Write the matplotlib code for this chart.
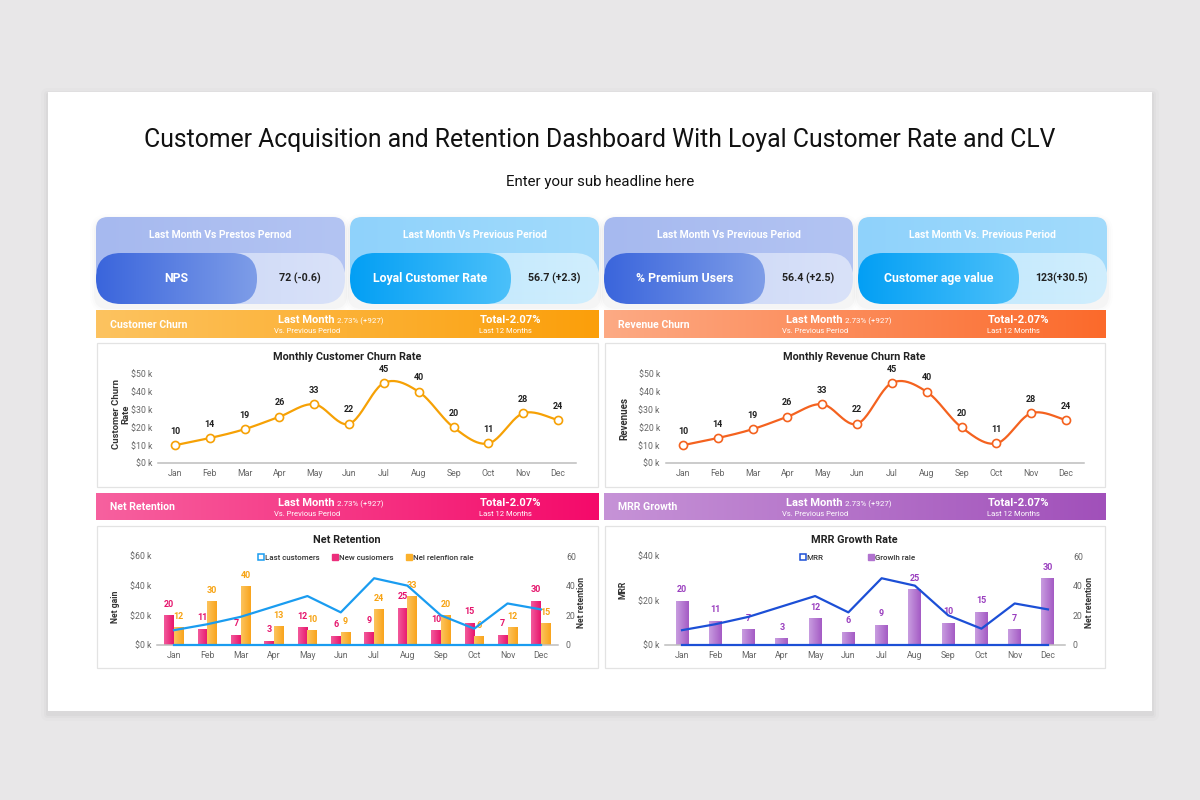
import numpy as np
import matplotlib
matplotlib.use("Agg")
import matplotlib.pyplot as plt
from matplotlib.patches import FancyBboxPatch, Rectangle
from matplotlib.colors import LinearSegmentedColormap
from matplotlib.lines import Line2D

plt.rcParams['font.family'] = ['Roboto', 'DejaVu Sans']

# ---------------- DATA ----------------
months = ['Jan', 'Feb', 'Mar', 'Apr', 'May', 'Jun', 'Jul', 'Aug', 'Sep', 'Oct', 'Nov', 'Dec']
customer_churn = [10, 14, 19, 26, 33, 22, 45, 40, 20, 11, 28, 24]
revenue_churn = [10, 14, 19, 26, 33, 22, 45, 40, 20, 11, 28, 24]
lost_customers = [10, 14, 19, 26, 33, 22, 45, 40, 20, 11, 28, 24]
new_customers = [20, 11, 7, 3, 12, 6, 9, 25, 10, 15, 7, 30]
net_retention_rate = [12, 30, 40, 13, 10, 9, 24, 33, 20, 6, 12, 15]
mrr_values = [10, 14, 19, 26, 33, 22, 45, 40, 20, 11, 28, 24]
growth_rate = [20, 11, 7, 3, 12, 6, 9, 25, 10, 15, 7, 30]
zero_baseline = [0, 0, 0, 0, 0, 0, 0, 0, 0, 0, 0, 0]

churn_ticks = [0, 10, 20, 30, 40, 50]
churn_tick_labels = ['$0 k', '$10 k', '$20 k', '$30 k', '$40 k', '$50 k']
net_ticks = [0, 20, 40, 60]
net_tick_labels = ['$0 k', '$20 k', '$40 k', '$60 k']
mrr_ticks = [0, 20, 40]
mrr_tick_labels = ['$0 k', '$20 k', '$40 k']
right_ticks = [0, 20, 40, 60]
right_tick_labels = ['0', '20', '40', '60']

net_legend = ['Last customers', 'New cusiomers', 'Nel relenfion rale']
mrr_legend = ['MRR', 'Growlh rale']

title = 'Customer Acquisition and Retention Dashboard With Loyal Customer Rate and CLV'
subtitle = 'Enter your sub headline here'

kpi_headers = ['Last Month Vs Prestos Pernod', 'Last Month Vs Previous Period',
               'Last Month Vs Previous Period', 'Last Month Vs. Previous Period']
kpi_names = ['NPS', 'Loyal Customer Rate', '% Premium Users', 'Customer age value']
kpi_values = ['72 (-0.6)', '56.7 (+2.3)', '56.4 (+2.5)', '123(+30.5)']

banner_titles = ['Customer Churn', 'Revenue Churn', 'Net Retention', 'MRR Growth']
banner_last_month = 'Last Month'
banner_change = '2.73% (+927)'
banner_vs = 'Vs. Previous Period'
banner_total = 'Total-2.07%'
banner_period = 'Last 12 Months'

# ---------------- FIGURE ----------------
W, H = 1200, 800
fig = plt.figure(figsize=(12, 8), dpi=100)
fig.patch.set_facecolor('#e8e7e8')
bg = fig.add_axes([0, 0, 1, 1])
bg.set_xlim(0, W)
bg.set_ylim(H, 0)
bg.axis('off')


def px_axes(l, t, r, b):
    return fig.add_axes([l / W, 1 - b / H, (r - l) / W, (b - t) / H])


def grad_patch(x, y, w, h, c1, c2, r, z):
    style = f"round,pad=0,rounding_size={r}" if r > 0 else "square,pad=0"
    p = FancyBboxPatch((x, y), w, h, boxstyle=style, fc='none', ec='none', zorder=z)
    bg.add_patch(p)
    cmap = LinearSegmentedColormap.from_list('g', [c1, c2])
    g = np.linspace(0, 1, 256).reshape(1, -1)
    im = bg.imshow(g, extent=[x, x + w, y + h, y], cmap=cmap, aspect='auto',
                   zorder=z, interpolation='bilinear')
    im.set_clip_path(p)
    return p


def soft_shadow(x, y, w, h, r, z, steps=((6, 0.008), (4, 0.012), (2, 0.018))):
    for s, a in steps:
        bg.add_patch(FancyBboxPatch((x - s, y - s + 3), w + 2 * s, h + 2 * s,
                                    boxstyle=f"round,pad=0,rounding_size={r + s}",
                                    fc='black', ec='none', alpha=a, zorder=z))


# white sheet
soft_shadow(48, 92, 1104, 619, 0, 0.5, steps=((7, 0.012), (4, 0.018), (2, 0.025)))
bg.add_patch(Rectangle((48, 92), 1104, 619, fc='white', ec='none', zorder=1))

bg.text(600, 140, title, ha='center', va='center', fontsize=17.8, color='#111111', zorder=5)
bg.text(600, 182, subtitle, ha='center', va='center', fontsize=10.8, color='#111111', zorder=5)

# ---------------- KPI CARDS ----------------
kpi_x = [96, 350, 604, 858]
card_w = 249
pill_w = 161
blue_style = dict(top=('#a6b9ef', '#b3c4f3'), light=('#cfdaf7', '#d9e2f9'), pill=('#3a65dc', '#7e9de8'))
cyan_style = dict(top=('#8fd2fb', '#a2dbfc'), light=('#c4e9fd', '#d0eefd'), pill=('#039ff4', '#4bc0fa'))
styles = [blue_style, cyan_style, blue_style, cyan_style]
for i, x0 in enumerate(kpi_x):
    st = styles[i]
    soft_shadow(x0, 217, card_w, 87, 12, 2)
    grad_patch(x0, 217, card_w, 63, st['top'][0], st['top'][1], 12, 3)
    grad_patch(x0 + pill_w - 40, 253, card_w - pill_w + 40, 51, st['light'][0], st['light'][1], 25, 4)
    grad_patch(x0, 253, pill_w, 51, st['pill'][0], st['pill'][1], 25, 5)
    bg.text(x0 + card_w / 2, 235.5, kpi_headers[i], ha='center', va='center', fontsize=7.5,
            fontweight='bold', color='white', zorder=6)
    bg.text(x0 + pill_w / 2, 278.5, kpi_names[i], ha='center', va='center', fontsize=8.8,
            fontweight='bold', color='white', zorder=6)
    bg.text((x0 + pill_w + x0 + card_w) / 2 - 1, 278.5, kpi_values[i], ha='center', va='center',
            fontsize=7.7, fontweight='bold', color='#222222', zorder=6)

# ---------------- BANNERS ----------------
banner_pos = [(96, 310, 503, 28), (604, 310, 502, 28), (96, 493, 503, 27), (604, 493, 502, 27)]
banner_cols = [('#fdc360', '#fb9f0a'), ('#fdaa84', '#fb6a2b'), ('#f7619f', '#f40a6a'), ('#c693d7', '#a150ba')]
for i, (bx, by, bw, bh) in enumerate(banner_pos):
    grad_patch(bx, by, bw, bh, banner_cols[i][0], banner_cols[i][1], 0, 3)
    bg.text(bx + 14, by + bh / 2 + 0.5, banner_titles[i], ha='left', va='center', fontsize=7.6,
            fontweight='bold', color='white', zorder=6)
    t = bg.text(bx + 182, by + 10, banner_last_month, ha='left', va='center', fontsize=8.0,
                fontweight='bold', color='white', zorder=6)
    bg.annotate(banner_change, xy=(1, 0.5), xycoords=t, xytext=(2, -0.5), textcoords='offset points',
                ha='left', va='center', fontsize=5.7, color='white', zorder=6)
    bg.text(bx + 178, by + 21, banner_vs, ha='left', va='center', fontsize=5.5,
            color='white', zorder=6)
    bg.text(bx + 384, by + 10, banner_total, ha='left', va='center', fontsize=8.1,
            fontweight='bold', color='white', zorder=6)
    bg.text(bx + 383, by + 21, banner_period, ha='left', va='center', fontsize=5.5,
            color='white', zorder=6)

# ---------------- PANELS ----------------
for (px, py, pw, ph) in [(97, 343, 501, 144), (605, 343, 500, 144), (97, 526, 501, 142), (605, 526, 500, 142)]:
    bg.add_patch(Rectangle((px, py), pw, ph, fc='white', ec='#e3e3e3', lw=0.9, zorder=2))

# chart titles
for (cx, cy, s) in [(347, 357, 'Monthly Customer Churn Rate'), (854, 357, 'Monthly Revenue Churn Rate'),
                    (347, 540, 'Net Retention'), (854, 540, 'MRR Growth Rate')]:
    bg.text(cx, cy, s, ha='center', va='center', fontsize=7.8, fontweight='bold', color='#222222', zorder=6)

# axis titles
ylab_kw = dict(ha='center', va='center', rotation=90, color='#333333', zorder=6, fontweight='bold')
bg.text(121, 414, 'Customer Churn\nRate', fontsize=6.8, linespacing=1.0, multialignment='center', **ylab_kw)
bg.text(624, 418, 'Revenues', fontsize=7, **ylab_kw)
bg.text(116, 607, 'Net gain', fontsize=6.2, **ylab_kw)
bg.text(582, 602, 'Net retention', fontsize=6.2, **ylab_kw)
bg.text(623, 590, 'MRR', fontsize=6.2, **ylab_kw)
bg.text(1090, 602, 'Net retention', fontsize=6.2, **ylab_kw)

bg.set_xlim(0, W)
bg.set_ylim(H, 0)

# ---------------- HELPERS ----------------
TICK_COL = '#666666'
TICK_FS = 6.3


def smooth(xv, yv, n=24):
    pts = np.column_stack([xv, yv]).astype(float)
    P = np.vstack([pts[0], pts, pts[-1]])
    out = []
    t = np.linspace(0, 1, n, endpoint=False)[:, None]
    for i in range(len(pts) - 1):
        p0, p1, p2, p3 = P[i], P[i + 1], P[i + 2], P[i + 3]
        seg = 0.5 * ((2 * p1) + (-p0 + p2) * t + (2 * p0 - 5 * p1 + 4 * p2 - p3) * t ** 2
                     + (-p0 + 3 * p1 - 3 * p2 + p3) * t ** 3)
        out.append(seg)
    out.append(pts[-1:])
    arr = np.vstack(out)
    return arr[:, 0], arr[:, 1]


def style_axes(ax, right=False):
    ax.set_facecolor('none')
    for s in ['top', 'left', 'right']:
        ax.spines[s].set_visible(False)
    ax.spines['bottom'].set_color('#bdbdbd')
    ax.spines['bottom'].set_linewidth(1.1)
    ax.tick_params(axis='both', length=0, labelsize=TICK_FS, labelcolor=TICK_COL)
    ax.tick_params(axis='x', pad=4)
    ax.tick_params(axis='y', pad=6 if right else 4)


def gradient_bars(ax, bars, c1, c2):
    cmap = LinearSegmentedColormap.from_list('b', [c1, c2])
    g = np.linspace(0, 1, 64).reshape(1, -1)
    for b in bars:
        x0, w, h = b.get_x(), b.get_width(), b.get_height()
        im = ax.imshow(g, extent=[x0, x0 + w, 0, h], cmap=cmap, aspect='auto',
                       zorder=b.get_zorder(), interpolation='bilinear')
        im.set_clip_path(b)


def churn_chart(ax, vals, color):
    x = np.arange(len(months))
    sx, sy = smooth(x, vals)
    ax.plot(sx, sy, color=color, lw=1.6, zorder=3, solid_capstyle='round')
    ax.plot(x, vals, ls='none', marker='o', ms=5.8, mfc='white', mec=color, mew=1.2, zorder=4)
    for xi, v in zip(x, vals):
        ax.annotate(str(v), (xi, v), xytext=(0, 10), textcoords='offset points', ha='center',
                    va='center', fontsize=6.5, fontweight='bold', color='#222222', annotation_clip=False)
    ax.set_xlim(-0.5, 11.5)
    ax.set_ylim(0, 50)
    ax.set_xticks(x, months)
    ax.set_yticks(churn_ticks, churn_tick_labels)
    style_axes(ax)


# ---------------- CHURN CHARTS ----------------
ax1 = px_axes(157.6, 374, 575.5, 463)
churn_chart(ax1, customer_churn, '#f6a105')
ax2 = px_axes(665.5, 374, 1083.5, 463)
churn_chart(ax2, revenue_churn, '#f4621f')

# ---------------- NET RETENTION ----------------
x = np.arange(len(months))
ax3 = px_axes(157.3, 556, 557.6, 645)
w3 = 0.29
pink, orange, lblue = '#ec2f7c', '#fbb12c', '#1a9cf0'
b_new = ax3.bar(x - w3 / 2, new_customers, w3, color=pink, zorder=2)
b_net = ax3.bar(x + w3 / 2, net_retention_rate, w3, color=orange, zorder=2)
gradient_bars(ax3, b_new, '#f25a9c', '#e8166c')
gradient_bars(ax3, b_net, '#fcc45e', '#f9a41c')
for xi, v in zip(x, new_customers):
    ax3.annotate(str(v), (xi - w3 / 2, v), xytext=(0, 8), textcoords='offset points', ha='center',
                 va='center', fontsize=6.5, fontweight='bold', color='#e5156c', annotation_clip=False, zorder=5)
for xi, v in zip(x, net_retention_rate):
    ax3.annotate(str(v), (xi + w3 / 2, v), xytext=(0, 7.5), textcoords='offset points', ha='center',
                 va='center', fontsize=6.5, fontweight='bold', color='#f7a313', annotation_clip=False, zorder=5)
ax3.set_xlim(-0.5, 11.5)
ax3.set_ylim(0, 60)
ax3.set_xticks(x, months)
ax3.set_yticks(net_ticks, net_tick_labels)
style_axes(ax3)
ax3r = ax3.twinx()
ax3r.plot(x, lost_customers, color=lblue, lw=1.6, zorder=3)
ax3r.plot(x, zero_baseline, color=lblue, lw=1.6, zorder=3, clip_on=False)
ax3r.set_xlim(-0.5, 11.5)
ax3r.set_ylim(0, 60)
ax3r.set_yticks(right_ticks, right_tick_labels)
style_axes(ax3r, right=True)
ax3r.spines['bottom'].set_visible(False)
h3 = [Line2D([], [], ls='none', marker='s', ms=4.0, mfc='white', mec=lblue, mew=1.1),
      Line2D([], [], ls='none', marker='s', ms=4.0, mfc=pink, mec=pink),
      Line2D([], [], ls='none', marker='s', ms=4.0, mfc=orange, mec=orange)]
leg = ax3r.legend(h3, net_legend, loc='center', bbox_to_anchor=(0.52, 0.98), ncol=3, frameon=False,
                  fontsize=5.7, handletextpad=0.05, columnspacing=1.5, handlelength=0.9, borderpad=0)
for t in leg.get_texts():
    t.set_color('#333333')
    t.set_fontweight('medium')

# ---------------- MRR GROWTH ----------------
ax4 = px_axes(665.4, 556, 1064.6, 645)
w4 = 0.39
purple, dblue = '#b173cf', '#1c4fd6'
b_gr = ax4.bar(x, growth_rate, w4, color=purple, zorder=2)
gradient_bars(ax4, b_gr, '#c89de0', '#a45ac4')
for xi, v in zip(x, growth_rate):
    ax4.annotate(str(v), (xi, v), xytext=(0, 8), textcoords='offset points', ha='center', va='center',
                 fontsize=6.5, fontweight='bold', color='#9a3fbf', annotation_clip=False, zorder=5)
ax4.set_xlim(-0.5, 11.5)
ax4.set_ylim(0, 40)
ax4.set_xticks(x, months)
ax4.set_yticks(mrr_ticks, mrr_tick_labels)
style_axes(ax4)
ax4r = ax4.twinx()
ax4r.plot(x, mrr_values, color=dblue, lw=1.6, zorder=3)
ax4r.plot(x, zero_baseline, color=dblue, lw=1.6, zorder=3, clip_on=False)
ax4r.set_xlim(-0.5, 11.5)
ax4r.set_ylim(0, 60)
ax4r.set_yticks(right_ticks, right_tick_labels)
style_axes(ax4r, right=True)
ax4r.spines['bottom'].set_visible(False)
h4 = [Line2D([], [], ls='none', marker='s', ms=4.0, mfc='white', mec=dblue, mew=1.1),
      Line2D([], [], ls='none', marker='s', ms=4.0, mfc=purple, mec=purple)]
leg4 = ax4r.legend(h4, mrr_legend, loc='center', bbox_to_anchor=(0.48, 0.98), ncol=2, frameon=False,
                   fontsize=5.7, handletextpad=0.05, columnspacing=5.5, handlelength=0.9, borderpad=0)
for t in leg4.get_texts():
    t.set_color('#333333')
    t.set_fontweight('medium')

fig.savefig('out.png', dpi=100, facecolor=fig.get_facecolor())
